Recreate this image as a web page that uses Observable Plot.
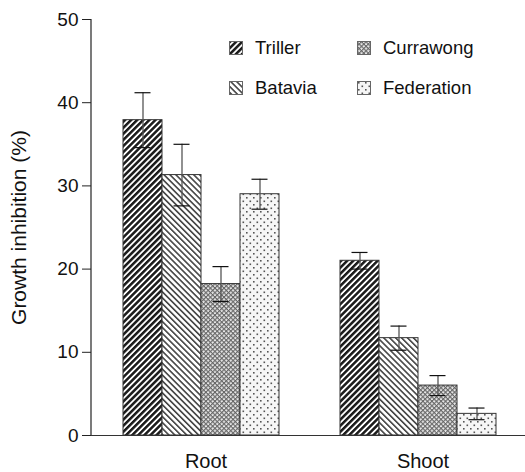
<!DOCTYPE html>
<html><head><meta charset="utf-8">
<script src="https://cdn.jsdelivr.net/npm/d3@7"></script>
<script src="https://cdn.jsdelivr.net/npm/@observablehq/plot@0.6"></script>
<style>
body{margin:0;background:#fff;font-family:"Liberation Sans",Arial,Helvetica,sans-serif;}
#wrap{position:relative;width:525px;height:472px;}
.leg{position:absolute;display:flex;align-items:center;font-size:18.5px;color:#111;line-height:1;}
.leg svg{margin-right:12px;display:block}
</style></head><body>
<svg width="0" height="0" style="position:absolute">
<defs>
  <pattern id="p-triller" patternUnits="userSpaceOnUse" width="4.3" height="4.3" patternTransform="rotate(45)">
    <rect width="4.3" height="4.3" fill="#fff"/>
    <rect width="2.5" height="4.3" fill="#1a1a1a"/>
  </pattern>
  <pattern id="p-batavia" patternUnits="userSpaceOnUse" width="4.2" height="4.2" patternTransform="rotate(-45)">
    <rect width="4.2" height="4.2" fill="#fff"/>
    <rect width="1.6" height="4.2" fill="#444"/>
  </pattern>
  <pattern id="p-currawong" patternUnits="userSpaceOnUse" width="3.2" height="3.2" patternTransform="rotate(45)">
    <rect width="3.2" height="3.2" fill="#e6e6e6"/>
    <rect width="1.1" height="3.2" fill="#666"/>
    <rect width="3.2" height="1.1" fill="#666"/>
  </pattern>
  <pattern id="p-federation" patternUnits="userSpaceOnUse" width="7" height="7">
    <rect width="7" height="7" fill="#f6f6f6"/>
    <rect x="1" y="1" width="1.6" height="1.6" fill="#555"/>
    <rect x="4.5" y="4.5" width="1.6" height="1.6" fill="#555"/>
  </pattern>
</defs>
</svg>
<div id="wrap"></div>
<script>
// ---- data ----
const groups = ["Root", "Shoot"];
const cultivars = ["Triller", "Batavia", "Currawong", "Federation"];
const rootMeans = [37.9, 31.3, 18.2, 29.0];
const rootErrors = [3.3, 3.7, 2.1, 1.8];
const shootMeans = [21.0, 11.7, 6.0, 2.6];
const shootErrors = [1.0, 1.45, 1.2, 0.7];
const yTicks = [0, 10, 20, 30, 40, 50];
const patternFills = ["url(#p-triller)", "url(#p-batavia)", "url(#p-currawong)", "url(#p-federation)"];

const data = [];
cultivars.forEach((c, i) => data.push({group: groups[0], cultivar: c, mean: rootMeans[i], err: rootErrors[i]}));
cultivars.forEach((c, i) => data.push({group: groups[1], cultivar: c, mean: shootMeans[i], err: shootErrors[i]}));

const marginLeft = 91;
const chart = Plot.plot({
  width: 525, height: 472,
  marginLeft, marginRight: 0, marginTop: 19, marginBottom: 37,
  style: {fontFamily: "'Liberation Sans', Arial, sans-serif", fontSize: "19px", color: "#111", background: "white", overflow: "visible"},
  fx: {domain: groups, padding: 0, label: null, axis: null},
  x: {domain: cultivars, padding: 0, insetLeft: 30.7, insetRight: 27.8, axis: null},
  y: {domain: [0, 50], axis: null},
  color: {domain: cultivars, range: patternFills},
  marks: [
    Plot.barY(data, {fx: "group", x: "cultivar", y: "mean", fill: "cultivar", stroke: "#333", strokeWidth: 1}),
    Plot.ruleX(data, {fx: "group", x: "cultivar", y1: d => d.mean - d.err, y2: d => d.mean + d.err, stroke: "#555", strokeWidth: 1.3}),
    Plot.tickY(data, {fx: "group", x: "cultivar", y: d => d.mean + d.err, stroke: "#111", strokeWidth: 1.2, insetLeft: 11.5, insetRight: 11.5}),
    Plot.tickY(data, {fx: "group", x: "cultivar", y: d => d.mean - d.err, stroke: "#111", strokeWidth: 1.2, insetLeft: 11.5, insetRight: 11.5}),
    Plot.ruleY([0], {stroke: "#333", strokeWidth: 1.2}),
    Plot.axisY({ticks: yTicks, tickSize: 9, tickPadding: 4, fontSize: 19, stroke: "#222",
      label: "Growth inhibition (%)", labelAnchor: "center", labelArrow: "none", labelOffset: 80}),
    Plot.axisFx({anchor: "bottom", tickSize: 0, tickPadding: 18, fontSize: 20, label: null, dx: 6})
  ]
});

// y axis line drawn from the library's y scale
const ys = chart.scale("y");
d3.select(chart).append("line")
  .attr("x1", marginLeft).attr("x2", marginLeft)
  .attr("y1", ys.apply(ys.domain[0])).attr("y2", ys.apply(ys.domain[1]))
  .attr("stroke", "#222").attr("stroke-width", 1.2);
// larger axis title
d3.select(chart).selectAll('[aria-label="y-axis label"]').attr("font-size", 21).selectAll("text").attr("font-size", 21);

const wrap = document.getElementById("wrap");
wrap.appendChild(chart);

// legend (inside plot area)
const legendPos = [[229, 48], [229, 88], [357, 48], [357, 88]];
cultivars.forEach((c, i) => {
  const el = document.createElement("div");
  el.className = "leg";
  el.style.left = legendPos[i][0] + "px";
  el.style.top = (legendPos[i][1] - 9) + "px";
  el.innerHTML = `<svg width="14" height="14"><rect x="0.5" y="0.5" width="13" height="13" fill="${patternFills[i]}" stroke="#666" stroke-width="1"/></svg><span>${c}</span>`;
  wrap.appendChild(el);
});
</script>
</body></html>
